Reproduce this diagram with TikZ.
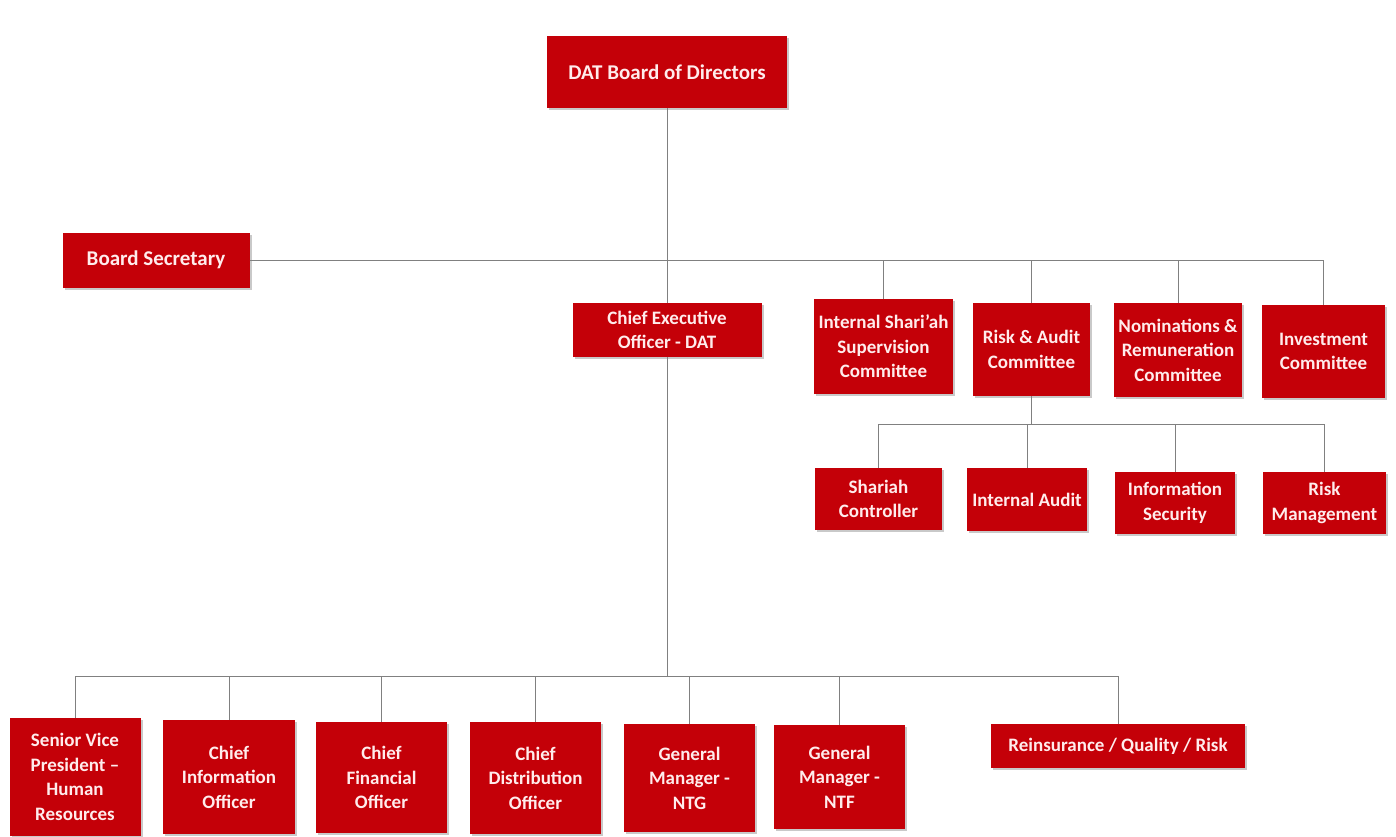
\documentclass[tikz,border=0pt]{standalone}
\usepackage{fontspec}
\setmainfont{Carlito}
\usetikzlibrary{shadows}
\definecolor{boxred}{RGB}{196,0,8}
\definecolor{txtpink}{RGB}{255,236,236}
\definecolor{linegray}{RGB}{128,128,128}
\tikzset{
  orgbox/.style={fill=boxred, text=txtpink, font=\bfseries\fontsize{19}{24.5}\selectfont,
    align=center, inner sep=0pt, anchor=center,
    drop shadow={shadow xshift=2pt, shadow yshift=-2pt, opacity=0.35, fill=black!60}},
  bigtext/.style={font=\bfseries\fontsize{21}{25}\selectfont},
  conn/.style={draw=linegray, line width=0.9pt}
}
\begin{document}
\begin{tikzpicture}[x=1pt, y=-1pt]
\fill[white] (0,0) rectangle (1396,836);
\useasboundingbox (0,0) rectangle (1396,836);
% top
\node[orgbox, bigtext, minimum width=240pt, minimum height=72pt] (board) at (667,72) {DAT Board of Directors};
\node[orgbox, bigtext, minimum width=187pt, minimum height=55pt] (sec) at (156,260) {Board Secretary};
\node[orgbox, minimum width=189pt, minimum height=54pt] (ceo) at (667,330) {Chief Executive\\Officer - DAT};
% committees
\node[orgbox, minimum width=139pt, minimum height=95pt] (shar) at (883.5,346.5) {Internal Shari'ah\\Supervision\\Committee};
\node[orgbox, minimum width=117pt, minimum height=93pt] (ra) at (1031.5,349.5) {Risk \& Audit\\Committee};
\node[orgbox, minimum width=128pt, minimum height=94pt] (nom) at (1178,350) {Nominations \&\\Remuneration\\Committee};
\node[orgbox, minimum width=123pt, minimum height=93pt] (inv) at (1323.5,351.5) {Investment\\Committee};
% risk & audit subunits
\node[orgbox, minimum width=127pt, minimum height=62pt] (shc) at (878.5,499) {Shariah\\Controller};
\node[orgbox, minimum width=120pt, minimum height=63pt] (ia) at (1027,499.5) {Internal Audit};
\node[orgbox, minimum width=120pt, minimum height=62pt] (is) at (1175,503) {Information\\Security};
\node[orgbox, minimum width=123pt, minimum height=62pt] (rm) at (1324.5,503) {Risk\\Management};
% bottom row
\node[orgbox, minimum width=131pt, minimum height=118pt] (svp) at (75,777) {Senior Vice\\President --\\Human\\Resources};
\node[orgbox, minimum width=132pt, minimum height=114pt] (cio) at (229,777) {Chief\\Information\\Officer};
\node[orgbox, minimum width=131pt, minimum height=111pt] (cfo) at (381.5,777.5) {Chief\\Financial\\Officer};
\node[orgbox, minimum width=131pt, minimum height=112pt] (cdo) at (535.5,778) {Chief\\Distribution\\Officer};
\node[orgbox, minimum width=131pt, minimum height=108pt] (ntg) at (689.5,778) {General\\Manager -\\NTG};
\node[orgbox, minimum width=131pt, minimum height=104pt] (ntf) at (839.5,777) {General\\Manager -\\NTF};
\node[orgbox, minimum width=254pt, minimum height=44pt] (rein) at (1118,746) {Reinsurance / Quality / Risk};
% connector coordinates
\coordinate (topbar) at (665,260);
\coordinate (topend) at (1323.5,260);
\coordinate (midbar) at (0,424);
\coordinate (botbar) at (665,676);
% connectors
\draw[conn] (ceo.north |- board.south) -- (ceo.north);
\draw[conn] (sec.east) -- (topend);
\draw[conn] (shar.north |- topbar) -- (shar.north);
\draw[conn] (ra.north |- topbar) -- (ra.north);
\draw[conn] (nom.north |- topbar) -- (nom.north);
\draw[conn] (inv.north |- topbar) -- (inv.north);
\draw[conn] (ra.south) -- (ra.south |- midbar);
\draw[conn] (shc.north |- midbar) -- (rm.north |- midbar);
\draw[conn] (shc.north |- midbar) -- (shc.north);
\draw[conn] (ia.north |- midbar) -- (ia.north);
\draw[conn] (is.north |- midbar) -- (is.north);
\draw[conn] (rm.north |- midbar) -- (rm.north);
\draw[conn] (ceo.south) -- (ceo.south |- botbar);
\draw[conn] (svp.north |- botbar) -- (rein.north |- botbar);
\foreach \n in {svp,cio,cfo,cdo,ntg,ntf,rein}{
  \draw[conn] (\n.north |- botbar) -- (\n.north);
}
\end{tikzpicture}
\end{document}
